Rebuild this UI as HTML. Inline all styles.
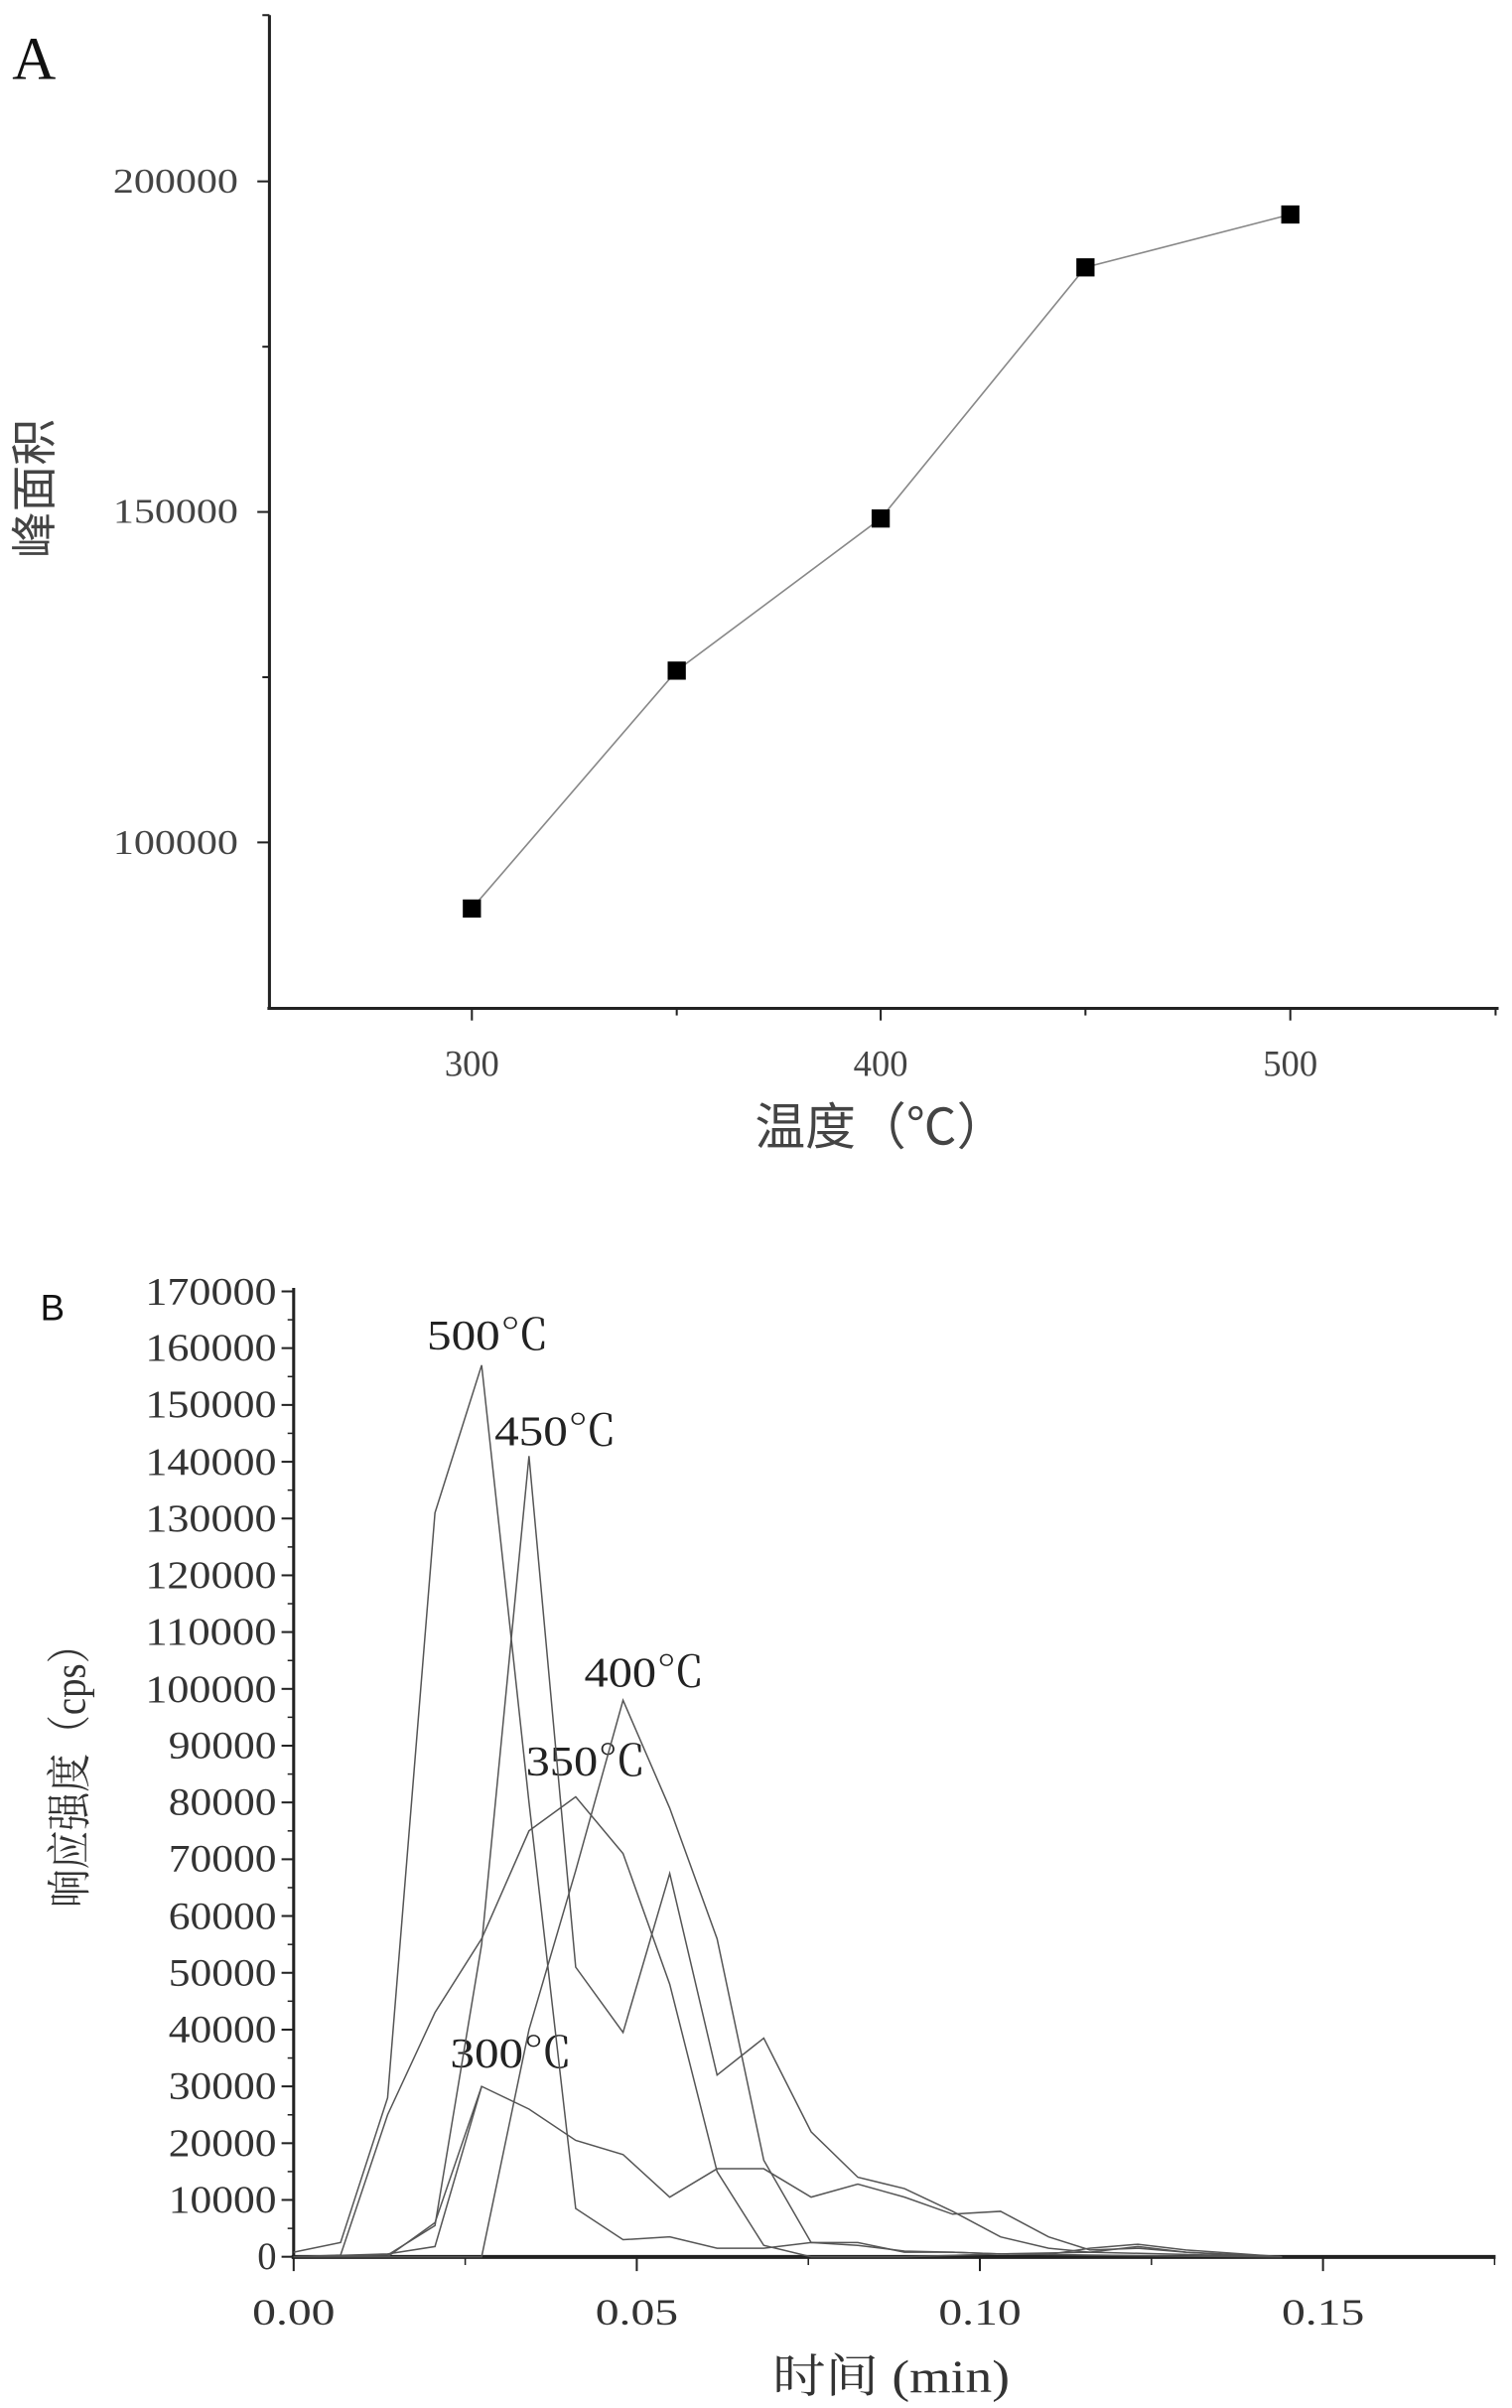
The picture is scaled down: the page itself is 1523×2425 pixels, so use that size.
<!DOCTYPE html>
<html><head><meta charset="utf-8"><style>html,body{margin:0;padding:0;background:#fff}svg{display:block}</style></head>
<body>
<svg width="1523" height="2425" viewBox="0 0 1523 2425" xmlns="http://www.w3.org/2000/svg" font-family="'Liberation Serif','Noto Serif CJK SC',serif" fill="#333">
<g transform="scale(1.0165)">
<!-- Chart A -->
<text x="12" y="78" font-size="60" fill="#111">A</text>
<g stroke="#222" stroke-width="3" fill="none">
<line x1="267" y1="15" x2="267" y2="1000"/>
<line x1="265" y1="999" x2="1485" y2="999"/>
</g>
<g stroke="#222" stroke-width="2">
<line x1="255" y1="179.7" x2="267" y2="179.7"/>
<line x1="255" y1="507.2" x2="267" y2="507.2"/>
<line x1="255" y1="834.6" x2="267" y2="834.6"/>
<line x1="260" y1="343.5" x2="267" y2="343.5"/>
<line x1="260" y1="670.9" x2="267" y2="670.9"/>
<line x1="260" y1="15" x2="267" y2="15"/>
<line x1="467.6" y1="999" x2="467.6" y2="1011"/>
<line x1="670.6" y1="999" x2="670.6" y2="1006"/>
<line x1="872.7" y1="999" x2="872.7" y2="1011"/>
<line x1="1075.6" y1="999" x2="1075.6" y2="1006"/>
<line x1="1278.6" y1="999" x2="1278.6" y2="1011"/>
<line x1="1482" y1="999" x2="1482" y2="1006"/>
</g>
<g font-size="34" text-anchor="end" fill="#444">
<text x="236" y="191" textLength="124" lengthAdjust="spacingAndGlyphs">200000</text>
<text x="236" y="518" textLength="124" lengthAdjust="spacingAndGlyphs">150000</text>
<text x="236" y="846" textLength="124" lengthAdjust="spacingAndGlyphs">100000</text>
</g>
<g font-size="36" text-anchor="middle" fill="#444">
<text x="467.6" y="1066">300</text>
<text x="872.7" y="1066">400</text>
<text x="1278.6" y="1066">500</text>
</g>
<text transform="translate(50,484) rotate(-90)" font-size="46" text-anchor="middle" font-family="'Liberation Sans','Noto Sans CJK SC',sans-serif" fill="#444">峰面积</text>
<text x="873" y="1134" font-size="50" text-anchor="middle" font-family="'Liberation Sans','Noto Sans CJK SC',sans-serif" fill="#444">温度（℃）</text>
<polyline points="467.6,900.1 670.6,664.4 872.7,513.7 1075.6,264.9 1278.6,212.5" fill="none" stroke="#888" stroke-width="1.6"/>
<g fill="#000">
<rect x="458.6" y="891.1" width="18" height="18"/>
<rect x="661.6" y="655.4" width="18" height="18"/>
<rect x="863.7" y="504.7" width="18" height="18"/>
<rect x="1066.6" y="255.9" width="18" height="18"/>
<rect x="1269.6" y="203.5" width="18" height="18"/>
</g>

<!-- Chart B -->
<text x="40" y="1308" font-size="36" font-family="'Liberation Sans',sans-serif" fill="#111">B</text>
<g stroke="#222" fill="none">
<line x1="291" y1="1276" x2="291" y2="2237" stroke-width="3"/>
<line x1="289" y1="2236" x2="1482" y2="2236" stroke-width="4"/>
</g>
<g stroke="#222" stroke-width="2">
<line x1="279" y1="2235.8" x2="291" y2="2235.8"/><line x1="279" y1="2179.5" x2="291" y2="2179.5"/><line x1="279" y1="2123.3" x2="291" y2="2123.3"/><line x1="279" y1="2067.0" x2="291" y2="2067.0"/><line x1="279" y1="2010.8" x2="291" y2="2010.8"/><line x1="279" y1="1954.5" x2="291" y2="1954.5"/><line x1="279" y1="1898.2" x2="291" y2="1898.2"/><line x1="279" y1="1842.0" x2="291" y2="1842.0"/><line x1="279" y1="1785.7" x2="291" y2="1785.7"/><line x1="279" y1="1729.5" x2="291" y2="1729.5"/><line x1="279" y1="1673.2" x2="291" y2="1673.2"/><line x1="279" y1="1616.9" x2="291" y2="1616.9"/><line x1="279" y1="1560.7" x2="291" y2="1560.7"/><line x1="279" y1="1504.4" x2="291" y2="1504.4"/><line x1="279" y1="1448.2" x2="291" y2="1448.2"/><line x1="279" y1="1391.9" x2="291" y2="1391.9"/><line x1="279" y1="1335.6" x2="291" y2="1335.6"/><line x1="279" y1="1279.4" x2="291" y2="1279.4"/>
</g>
<g stroke="#222" stroke-width="1.5">
<line x1="285" y1="2207.7" x2="291" y2="2207.7"/><line x1="285" y1="2151.4" x2="291" y2="2151.4"/><line x1="285" y1="2095.2" x2="291" y2="2095.2"/><line x1="285" y1="2038.9" x2="291" y2="2038.9"/><line x1="285" y1="1982.6" x2="291" y2="1982.6"/><line x1="285" y1="1926.4" x2="291" y2="1926.4"/><line x1="285" y1="1870.1" x2="291" y2="1870.1"/><line x1="285" y1="1813.9" x2="291" y2="1813.9"/><line x1="285" y1="1757.6" x2="291" y2="1757.6"/><line x1="285" y1="1701.3" x2="291" y2="1701.3"/><line x1="285" y1="1645.1" x2="291" y2="1645.1"/><line x1="285" y1="1588.8" x2="291" y2="1588.8"/><line x1="285" y1="1532.6" x2="291" y2="1532.6"/><line x1="285" y1="1476.3" x2="291" y2="1476.3"/><line x1="285" y1="1420.0" x2="291" y2="1420.0"/><line x1="285" y1="1363.8" x2="291" y2="1363.8"/><line x1="285" y1="1307.5" x2="291" y2="1307.5"/>
<line x1="291" y1="2236" x2="291" y2="2250" stroke-width="2"/>
<line x1="461" y1="2236" x2="461" y2="2244"/>
<line x1="631" y1="2236" x2="631" y2="2250" stroke-width="2"/>
<line x1="801" y1="2236" x2="801" y2="2244"/>
<line x1="971" y1="2236" x2="971" y2="2250" stroke-width="2"/>
<line x1="1141" y1="2236" x2="1141" y2="2244"/>
<line x1="1311" y1="2236" x2="1311" y2="2250" stroke-width="2"/>
<line x1="1481" y1="2236" x2="1481" y2="2244"/>
</g>
<g font-size="38" text-anchor="end" fill="#333">
<text x="274" y="2248" >0</text>
<text x="274" y="2192" textLength="107" lengthAdjust="spacingAndGlyphs">10000</text>
<text x="274" y="2136" textLength="107" lengthAdjust="spacingAndGlyphs">20000</text>
<text x="274" y="2079" textLength="107" lengthAdjust="spacingAndGlyphs">30000</text>
<text x="274" y="2023" textLength="107" lengthAdjust="spacingAndGlyphs">40000</text>
<text x="274" y="1967" textLength="107" lengthAdjust="spacingAndGlyphs">50000</text>
<text x="274" y="1911" textLength="107" lengthAdjust="spacingAndGlyphs">60000</text>
<text x="274" y="1854" textLength="107" lengthAdjust="spacingAndGlyphs">70000</text>
<text x="274" y="1798" textLength="107" lengthAdjust="spacingAndGlyphs">80000</text>
<text x="274" y="1742" textLength="107" lengthAdjust="spacingAndGlyphs">90000</text>
<text x="274" y="1686" textLength="130" lengthAdjust="spacingAndGlyphs">100000</text>
<text x="274" y="1629" textLength="130" lengthAdjust="spacingAndGlyphs">110000</text>
<text x="274" y="1573" textLength="130" lengthAdjust="spacingAndGlyphs">120000</text>
<text x="274" y="1517" textLength="130" lengthAdjust="spacingAndGlyphs">130000</text>
<text x="274" y="1461" textLength="130" lengthAdjust="spacingAndGlyphs">140000</text>
<text x="274" y="1404" textLength="130" lengthAdjust="spacingAndGlyphs">150000</text>
<text x="274" y="1348" textLength="130" lengthAdjust="spacingAndGlyphs">160000</text>
<text x="274" y="1292" textLength="130" lengthAdjust="spacingAndGlyphs">170000</text>
</g>
<g font-size="36" text-anchor="middle" fill="#333">
<text x="291" y="2303" textLength="82" lengthAdjust="spacingAndGlyphs">0.00</text>
<text x="631" y="2303" textLength="82" lengthAdjust="spacingAndGlyphs">0.05</text>
<text x="971" y="2303" textLength="82" lengthAdjust="spacingAndGlyphs">0.10</text>
<text x="1311" y="2303" textLength="82" lengthAdjust="spacingAndGlyphs">0.15</text>
</g>
<text transform="translate(84,1750) rotate(-90)" font-size="44" text-anchor="middle" textLength="280" lengthAdjust="spacingAndGlyphs" fill="#333">响应强度（cps）</text>
<text x="883" y="2370" font-size="46" text-anchor="middle" textLength="235" lengthAdjust="spacingAndGlyphs" fill="#333">时间 (min)</text>
<g font-size="42" fill="#222">
<text x="423" y="1337" textLength="121" lengthAdjust="spacingAndGlyphs">500℃</text>
<text x="490" y="1432" textLength="121" lengthAdjust="spacingAndGlyphs">450℃</text>
<text x="579" y="1671" textLength="119" lengthAdjust="spacingAndGlyphs">400℃</text>
<text x="521" y="1759" textLength="119" lengthAdjust="spacingAndGlyphs">350℃</text>
<text x="446" y="2048" textLength="121" lengthAdjust="spacingAndGlyphs">300℃</text>
</g>
<g transform="translate(290.9,2235.8) scale(6802,-0.005626)" fill="none" stroke="#555" stroke-width="1.5">
<polyline vector-effect="non-scaling-stroke" points="0,800 0.00685,2500 0.0137,28000 0.0206,131000 0.0274,157000 0.0343,80000 0.0411,8500 0.048,3000 0.0548,3500 0.0617,1500 0.0685,1500 0.0754,2500 0.0822,2000 0.089,1000 0.096,800 0.103,500 0.110,400 0.116,300 0.123,200 0.130,100 0.144,0"/>
<polyline vector-effect="non-scaling-stroke" points="0,0 0.00685,200 0.0137,300 0.0206,5500 0.0274,55000 0.0343,141000 0.0411,51000 0.048,39500 0.0548,67500 0.0617,32000 0.0685,38500 0.0754,22000 0.0822,14000 0.089,12000 0.096,8000 0.103,3500 0.110,1500 0.116,800 0.123,1800 0.130,800 0.137,400 0.144,0"/>
<polyline vector-effect="non-scaling-stroke" points="0,0 0.0137,0 0.0206,0 0.0274,0 0.0343,40000 0.0411,68000 0.048,98000 0.0548,79000 0.0617,56000 0.0685,17000 0.0754,2500 0.0822,2500 0.089,800 0.096,800 0.103,500 0.110,400 0.116,1500 0.123,2200 0.130,1200 0.137,600 0.144,0"/>
<polyline vector-effect="non-scaling-stroke" points="0,0 0.00685,300 0.0137,25000 0.0206,43000 0.0274,56000 0.0343,75000 0.0411,81000 0.048,71000 0.0548,48000 0.0617,15000 0.0685,2000 0.0754,0 0.089,0 0.103,500 0.116,800 0.130,400 0.144,0"/>
<polyline vector-effect="non-scaling-stroke" points="0,0 0.0137,500 0.0206,1800 0.0274,30000 0.0343,26000 0.0411,20500 0.048,18000 0.0548,10500 0.0617,15500 0.0685,15500 0.0754,10500 0.0822,12800 0.089,10500 0.096,7500 0.103,8000 0.110,3500 0.116,1200 0.123,1500 0.130,800 0.137,300 0.144,0"/>
<polyline vector-effect="non-scaling-stroke" points="0.0137,0 0.0206,6000 0.0274,30000"/>
</g>
</g>
</svg>
</body></html>
